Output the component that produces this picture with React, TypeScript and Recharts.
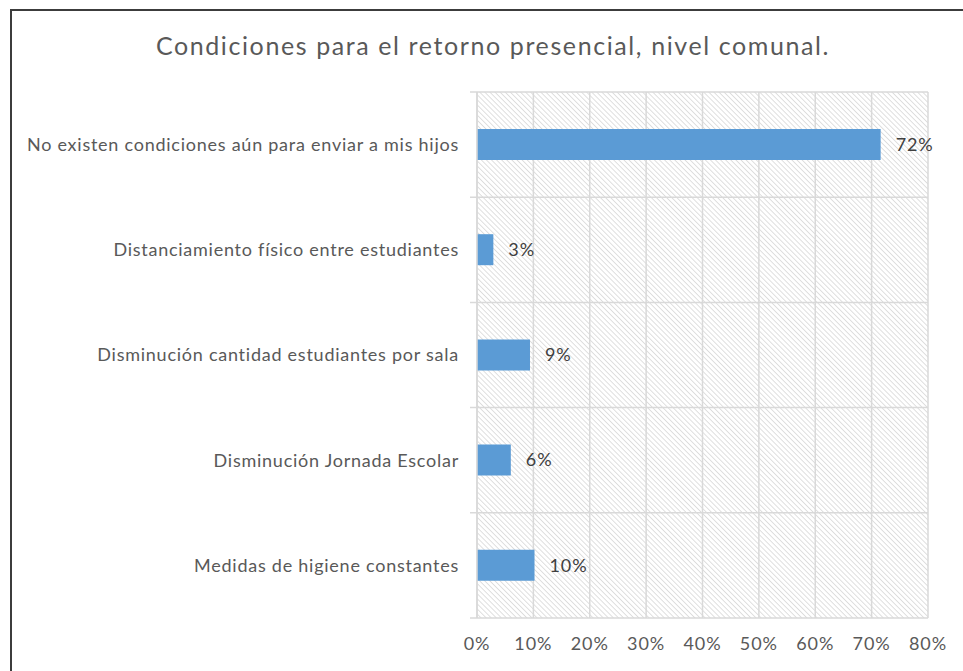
import { BarChart, Bar, XAxis, YAxis, CartesianGrid, LabelList } from 'recharts'

const categories = [
  'No existen condiciones aún para enviar a mis hijos',
  'Distanciamiento físico entre estudiantes',
  'Disminución cantidad estudiantes por sala ',
  'Disminución Jornada Escolar',
  'Medidas de higiene constantes',
]
const shares = [71.6, 2.9, 9.4, 6.0, 10.2]
const xTicks = [0, 10, 20, 30, 40, 50, 60, 70, 80]

const data = categories.map((name, i) => ({ name, share: shares[i] }))

const FONT = 'Lato, "Open Sans", sans-serif'
const GRID = '#d9d9d9'

// Excel puts category gridlines on band edges, not centres
const bandEdges = ({ offset }: any) => {
  const n = categories.length
  const out: number[] = []
  for (let i = 0; i <= n; i++) out.push(offset.top + (offset.height * i) / n)
  return out
}

export default function App() {
  return (
    <div style={{ position: 'absolute', left: 0, top: 0, width: 963, height: 671, background: '#fff', fontFamily: FONT, overflow: 'hidden' }}>
      <div style={{ position: 'absolute', left: 10, top: 9, right: -4, bottom: -4, borderLeft: '2px solid #3c3c3c', borderTop: '2px solid #3c3c3c' }} />
      <div style={{ position: 'absolute', left: 0, width: 986, top: 30, textAlign: 'center', fontSize: 25, letterSpacing: 1.6, color: '#595959', whiteSpace: 'nowrap' }}>
        Condiciones para el retorno presencial, nivel comunal.
      </div>
      <BarChart
        width={963}
        height={671}
        data={data}
        layout="vertical"
        margin={{ top: 92, right: 35, bottom: 0, left: 0 }}
        style={{ position: 'absolute', left: 0, top: 0 }}
      >
        <defs>
          <pattern id="hatch" patternUnits="userSpaceOnUse" width="3.6" height="3.6" patternTransform="rotate(-45)">
            <rect width="3.6" height="3.6" fill="#fff" />
            <line x1="0" y1="0" x2="0" y2="3.6" stroke="#cbcbcb" strokeWidth="1.2" />
          </pattern>
        </defs>
        <CartesianGrid fill="url(#hatch)" stroke={GRID} strokeWidth={1.5} horizontal={false} />
        <CartesianGrid
          x={470}
          width={458}
          fillOpacity={0}
          stroke={GRID}
          strokeWidth={1.5}
          vertical={false}
          horizontalCoordinatesGenerator={bandEdges}
        />
        <XAxis
          type="number"
          domain={[0, 80]}
          ticks={xTicks}
          tickFormatter={(v) => `${v}%`}
          axisLine={false}
          tickLine={false}
          height={53}
          tickMargin={13}
          tick={{ fill: '#595959', fontSize: 18, fontFamily: FONT, letterSpacing: 0.9 }}
        />
        <YAxis
          type="category"
          dataKey="name"
          width={477}
          axisLine={{ stroke: GRID, strokeWidth: 1.5 }}
          tickLine={false}
          tickMargin={12}
          tick={{ fill: '#595959', fontSize: 18, fontFamily: FONT, letterSpacing: 0.75, whiteSpace: 'pre' }}
        />
        <Bar dataKey="share" fill="#5b9bd5" barSize={31} isAnimationActive={false}>
          <LabelList
            dataKey="share"
            position="right"
            offset={15}
            formatter={(v: any) => `${Math.round(Number(v))}%`}
            style={{ fill: '#404040', fontSize: 18, fontFamily: FONT, letterSpacing: 0.9 }}
          />
        </Bar>
      </BarChart>
    </div>
  )
}
